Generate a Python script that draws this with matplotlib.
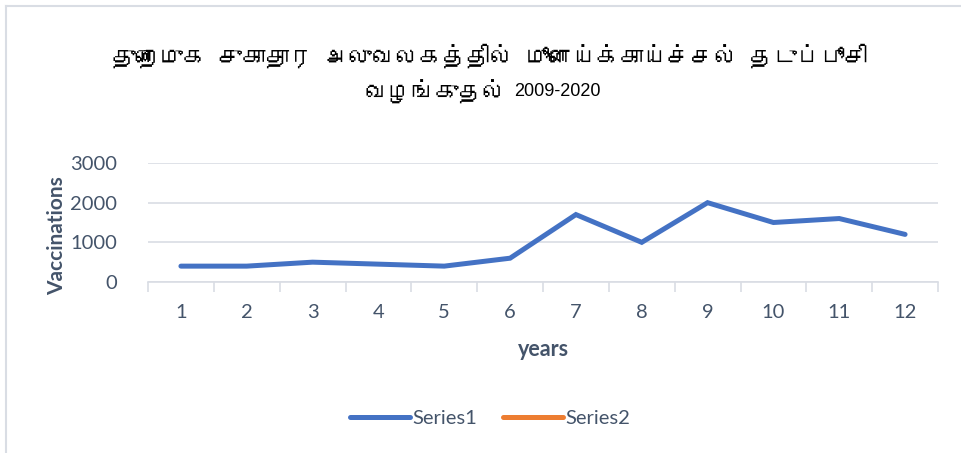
import matplotlib
matplotlib.use("Agg")
import matplotlib.pyplot as plt
from matplotlib import font_manager
from matplotlib.ft2font import FT2Font
from matplotlib.lines import Line2D

years = [1, 2, 3, 4, 5, 6, 7, 8, 9, 10, 11, 12]
series1 = [400, 400, 500, 450, 400, 600, 1700, 1000, 2000, 1500, 1600, 1200]
series2 = []
yticks = [0, 1000, 2000, 3000]

title_line1 = "துறைமுக சுகாதார அலுவலகத்தில் மூளைய்க்காய்ச்சல் தடுப்பூசி"
title_line2a = "வழங்குதல்"
title_line2b = "2009-2020"

# look for any installed font that has Tamil glyphs
tamil_family = None
for fe in font_manager.fontManager.ttflist:
    try:
        if 0x0BA4 in FT2Font(fe.fname).get_charmap():
            tamil_family = fe.name
            break
    except Exception:
        pass
title_fonts = ([tamil_family] if tamil_family else []) + ["Liberation Sans", "DejaVu Sans"]

plt.rcParams["font.family"] = ["Lato", "DejaVu Sans"]
txt = "#44546a"
grid = "#d9dde4"

fig = plt.figure(figsize=(9.61, 4.53), dpi=100)
W, H = 961, 453
ax = fig.add_axes([148 / W, 1 - 282 / H, (938 - 148) / W, (282 - 163) / H])

ax.plot(years, series1, color="#4472c4", linewidth=3.6, solid_capstyle="round",
        solid_joinstyle="miter", label="Series1")
ax.plot(series2, series2, color="#ed7d31", linewidth=3.6, solid_capstyle="round",
        label="Series2")

ax.set_xlim(0.5, 12.5)
ax.set_ylim(0, 3000)
ax.set_yticks(yticks)
ax.set_xticks(years)
ax.set_xticks([x + 0.5 for x in range(13)], minor=True)
ax.tick_params(axis="x", which="major", length=0, pad=16, labelsize=14.5, labelcolor=txt)
ax.tick_params(axis="x", which="minor", length=7, width=1.2, color=grid)
ax.tick_params(axis="y", length=0, pad=22, labelsize=14.5, labelcolor=txt)
ax.grid(axis="y", color=grid, linewidth=1.2)
ax.set_axisbelow(True)
for s in ["top", "right", "left"]:
    ax.spines[s].set_visible(False)
ax.spines["bottom"].set_color(grid)
ax.spines["bottom"].set_linewidth(1.2)

fig.text(57 / W, 1 - 236 / H, "Vaccinations", rotation=90, ha="center", va="center",
         fontsize=15, fontweight="bold", color=txt)
fig.text(543 / W, 1 - 350 / H, "years", ha="center", va="center",
         fontsize=15.5, fontweight="bold", color=txt)

fig.text(490 / W, 1 - 56 / H, title_line1, ha="center", va="center",
         fontsize=17, color="black", family=title_fonts)
fig.text(506 / W, 1 - 92 / H, title_line2a, ha="right", va="center",
         fontsize=17, color="black", family=title_fonts)
fig.text(514 / W, 1 - 92 / H, title_line2b, ha="left", va="center",
         fontsize=13, color="black", family=["Liberation Sans", "DejaVu Sans"])

fig.legend(loc="center", bbox_to_anchor=(490 / W, 1 - 418 / H), ncol=2, frameon=False,
           fontsize=14.5, labelcolor=txt, handlelength=3.0, handletextpad=0.1,
           columnspacing=1.3)

# chart border
fig.add_artist(Line2D([6 / W, 6 / W], [0, 1 - 6 / H], color=grid, linewidth=1.5))
fig.add_artist(Line2D([6 / W, 1], [1 - 6 / H, 1 - 6 / H], color=grid, linewidth=1.5))

fig.savefig("out.png", dpi=100, facecolor="white")
